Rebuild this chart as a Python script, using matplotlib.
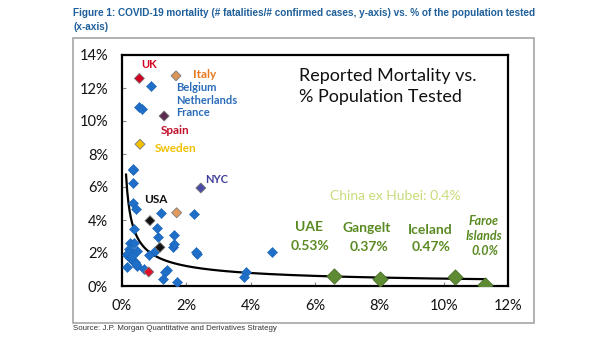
import matplotlib
matplotlib.use("Agg")
import matplotlib.pyplot as plt
import numpy as np
from matplotlib.patches import Rectangle

# ---------------- data ----------------
blue_x = [0.35, 0.33, 0.35, 0.44, 1.21, 2.25, 1.08, 0.37, 1.13, 1.62, 1.60, 1.62,
          0.25, 0.37, 0.23, 0.48, 1.03, 2.33, 2.30, 4.67, 0.17, 0.25, 0.33, 0.40,
          0.46, 0.15, 0.83, 0.68, 1.39, 1.34, 1.29, 1.72, 3.86, 3.78, 0.89, 0.54,
          0.61, 0.33, 0.20, 0.30, 0.42]
blue_y = [7.03, 6.26, 5.05, 4.65, 4.44, 4.36, 3.49, 3.45, 2.95, 3.07, 2.38, 2.55,
          2.63, 2.59, 2.22, 2.14, 2.14, 1.94, 2.05, 2.06, 1.88, 1.68, 1.52, 1.47,
          1.21, 1.17, 1.88, 1.03, 0.97, 0.85, 0.40, 0.26, 0.87, 0.57, 12.14, 10.87,
          10.70, 7.07, 2.00, 1.80, 1.35]

special_names = ["UK", "Italy", "France", "Sweden", "NYC", "USA", "USA2", "Orange", "Red"]
special_x = [0.54, 1.68, 1.31, 0.56, 2.45, 0.87, 1.18, 1.70, 0.83]
special_y = [12.58, 12.74, 10.30, 8.59, 5.94, 3.96, 2.34, 4.44, 0.85]
special_col = ["#d2001e", "#d9955a", "#5b2c4e", "#f2c200", "#4b4ba6", "#111111",
               "#111111", "#e39a5c", "#e0102a"]

green_x = [6.58, 8.02, 10.36, 11.29]
green_y = [0.61, 0.44, 0.57, 0.04]

trend_a = 1.86     # power-law trendline coefficients
trend_b = -0.62
trend_x_range = (0.125, 11.3)

x_ticks = [0, 2, 4, 6, 8, 10, 12]
y_ticks = [0, 2, 4, 6, 8, 10, 12, 14]

# ---------------- figure ----------------
W, H = 605, 341
fig = plt.figure(figsize=(W / 100, H / 100), dpi=100)
fig.patch.set_facecolor("white")

def fx(px):
    return px / W

def fy(py):
    return 1 - py / H

# outer gray frame
fig.patches.append(Rectangle((fx(73), fy(323)), fx(534) - fx(73), fy(38) - fy(323),
                             transform=fig.transFigure, fill=False,
                             edgecolor="#a6a6a6", linewidth=1.2))

title_font = ["Liberation Sans", "DejaVu Sans"]
t1 = fig.text(fx(73), fy(13), "Figure 1: COVID-19 mortality (# fatalities/# confirmed cases, y-axis) vs. % of the population tested",
              family=title_font, fontsize=8.6, fontweight="bold", color="#1f5f9a", va="center", ha="left")
renderer = fig.canvas.get_renderer()
w1 = t1.get_window_extent(renderer).width
title_size = 8.6 * (532 - 73) / w1
t1.set_fontsize(title_size)
fig.text(fx(73), fy(27), "(x-axis)", family=title_font, fontsize=title_size, fontweight="bold",
         color="#1f5f9a", va="center", ha="left")
fig.text(fx(73), fy(328), "Source: J.P. Morgan Quantitative and Derivatives Strategy",
         family=title_font, fontsize=5.7, color="#333333", va="center", ha="left")

ax = fig.add_axes([fx(122), fy(286), fx(508) - fx(122), fy(55) - fy(286)])
ax.set_xlim(0, 12)
ax.set_ylim(0, 14)
for s in ax.spines.values():
    s.set_color("black")
    s.set_linewidth(1.6)
ax.set_xticks(x_ticks)
ax.set_yticks(y_ticks)
ax.set_xticklabels([f"{v}%" for v in x_ticks])
ax.set_yticklabels([f"{v}%" for v in y_ticks])
ax.tick_params(axis="both", direction="in", length=3, color="#888888", labelsize=10.5,
               labelcolor="#111111")
ax.tick_params(axis="x", pad=9)
ax.tick_params(axis="y", pad=10)
for lab in ax.get_xticklabels() + ax.get_yticklabels():
    lab.set_family(["Lato", "DejaVu Sans"])

# trendline
tx = np.linspace(trend_x_range[0], trend_x_range[1], 300)
ax.plot(tx, trend_a * tx ** trend_b, color="black", lw=1.6, zorder=2)

# points
ax.scatter(blue_x, blue_y, marker="D", s=26, color="#1f6fc8", edgecolor="#1a62b5",
           linewidth=0.4, zorder=3)
ax.scatter(special_x, special_y, marker="D", s=26, c=special_col, edgecolor="#7a7a7a",
           linewidth=0.6, zorder=4)
ax.scatter(green_x, green_y, marker="D", s=60, color="#5f8a34", edgecolor="#4a6e28",
           linewidth=0.6, zorder=4)

lf = ["Lato", "DejaVu Sans"]
def lab(x, y, t, c, size=8, weight="bold", ha="left", style="normal"):
    ax.text(x, y, t, color=c, fontsize=size, fontweight=weight, ha=ha, va="center",
            family=lf, style=style, zorder=5)

lab(0.61, 13.45, "UK", "#d2001e")
lab(2.22, 12.79, "Italy", "#e8781e", 8.5)
lab(1.68, 12.04, "Belgium", "#2a6cb8")
lab(1.68, 11.23, "Netherlands", "#2a6cb8")
lab(1.68, 10.50, "France", "#2a6cb8")
lab(1.21, 9.41, "Spain", "#c0102a", 8.5)
lab(1.03, 8.35, "Sweden", "#f0c000", 8.5)
lab(2.59, 6.47, "NYC", "#3d3d9a", 8)
lab(0.69, 5.25, "USA", "#111111", 8.5)

lab(8.50, 5.45, "China ex Hubei: 0.4%", "#c8dc7a", 10, weight="normal", ha="center")
green = "#5a8a22"
lab(5.80, 3.56, "UAE", green, 10, ha="center")
lab(5.86, 2.44, "0.53%", green, 10, ha="center")
lab(7.62, 3.50, "Gangelt", green, 10, ha="center")
lab(7.67, 2.38, "0.37%", green, 10, ha="center")
lab(9.57, 3.39, "Iceland", green, 10, ha="center")
lab(9.62, 2.35, "0.47%", green, 10, ha="center")
lab(11.24, 3.96, "Faroe", green, 9, ha="center", style="italic")
lab(11.24, 3.03, "Islands", green, 9, ha="center", style="italic")
lab(11.29, 2.14, "0.0%", green, 9, ha="center", style="italic")

ax.text(5.5, 12.1, "Reported Mortality vs.\n% Population Tested", fontsize=13,
        family=lf, color="#111111", ha="left", va="center", linespacing=1.35)

fig.savefig("out.png", dpi=100)
